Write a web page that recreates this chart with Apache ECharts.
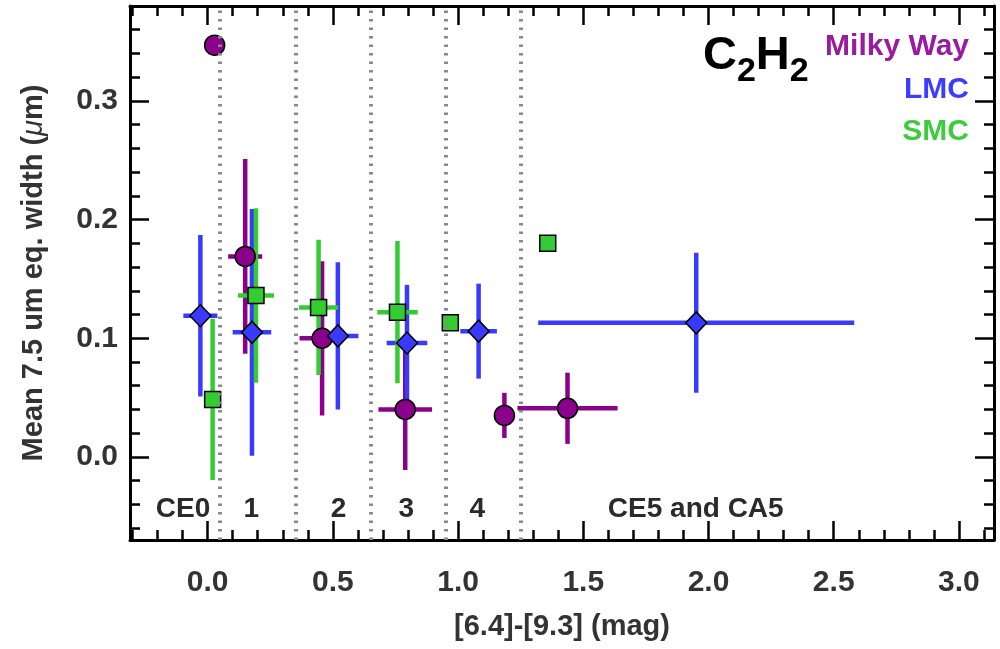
<!DOCTYPE html>
<html>
<head>
<meta charset="utf-8">
<title>C2H2 mean 7.5 um equivalent width</title>
<script src="https://cdn.jsdelivr.net/npm/echarts@6/dist/echarts.min.js"></script>
<style>
html, body { margin: 0; padding: 0; background: #fff; }
#chart { width: 1000px; height: 649px; }
</style>
</head>
<body>
<div id="chart"></div>
<script>
// values: x, y, half error in x, half error in y
var mwX = [0.028, 0.150, 0.457, 0.789, 1.185, 1.437];
var mwY = [0.347, 0.169, 0.100, 0.040, 0.035, 0.041];
var mwXerr = [0, 0.068, 0.090, 0.107, 0, 0.200];
var mwYerr = [0, 0.082, 0.065, 0.051, 0.019, 0.030];

var lmcX = [-0.029, 0.177, 0.520, 0.796, 1.082, 1.951];
var lmcY = [0.119, 0.105, 0.102, 0.096, 0.106, 0.113];
var lmcXerr = [0.068, 0.077, 0.082, 0.081, 0.073, 0.631];
var lmcYerr = [0.068, 0.104, 0.062, 0.049, 0.040, 0.059];

var smcX = [0.020, 0.193, 0.443, 0.758, 0.969, 1.358];
var smcY = [0.0485, 0.136, 0.126, 0.122, 0.113, 0.180];
var smcXerr = [0, 0.072, 0.078, 0.081, 0, 0];
var smcYerr = [0.068, 0.0735, 0.057, 0.060, 0, 0];

var seriesNames = ['Milky Way', 'LMC', 'SMC'];
var dividers = [0.05, 0.35, 0.65, 0.95, 1.25];
var classNames = ['CE0', '1', '2', '3', '4', 'CE5 and CA5'];
var classX = [-0.098, 0.174, 0.523, 0.793, 1.077, 1.949];
var classY = -0.044;

var FONT = "'Liberation Sans', Arial, Helvetica, sans-serif";
var PURPLE = '#8b008b', BLUE = '#3a3aff', GREEN = '#33cc33';
var XMIN = -0.31, XMAX = 3.14, YMIN = -0.07, YMAX = 0.38;

function rows(x, y, xe, ye) {
  var out = [];
  for (var i = 0; i < x.length; i++) out.push([x[i], y[i], xe[i], ye[i]]);
  return out;
}

function errBars(color) {
  return function (params, api) {
    var x = api.value(0), y = api.value(1), xe = api.value(2), ye = api.value(3);
    var kids = [];
    var st = { stroke: color, lineWidth: 4.5 };
    if (xe > 0) {
      var a = api.coord([x - xe, y]), b = api.coord([x + xe, y]);
      kids.push({ type: 'line', shape: { x1: a[0], y1: a[1], x2: b[0], y2: b[1] }, style: st });
    }
    if (ye > 0) {
      var c = api.coord([x, y - ye]), d = api.coord([x, y + ye]);
      kids.push({ type: 'line', shape: { x1: c[0], y1: c[1], x2: d[0], y2: d[1] }, style: st });
    }
    return { type: 'group', children: kids };
  };
}

function isMultiple(v, step) {
  var r = v / step;
  return Math.abs(r - Math.round(r)) < 1e-6;
}

function majorAxis(pos, min, max, step, labels, fmtStep) {
  return {
    type: 'value', position: pos, min: min, max: max,
    minInterval: step, maxInterval: step,
    axisLine: { show: true, onZero: false, lineStyle: { color: '#000', width: 3 } },
    axisTick: { show: true, inside: true, length: 19, lineStyle: { color: '#000', width: 2.5 } },
    minorTick: { show: false },
    splitLine: { show: false },
    axisLabel: {
      show: labels,
      color: '#333', fontSize: 30, fontWeight: 'bold', fontFamily: FONT,
      margin: pos === 'left' ? 12 : 28,
      formatter: function (v) { return isMultiple(v, fmtStep) ? v.toFixed(1) : ''; }
    }
  };
}

function minorAxis(pos, min, max, step) {
  return {
    type: 'value', position: pos, min: min, max: max,
    minInterval: step, maxInterval: step,
    axisLine: { show: false, onZero: false },
    axisTick: { show: true, inside: true, length: 10, lineStyle: { color: '#000', width: 2.5 } },
    splitLine: { show: false },
    axisLabel: { show: false }
  };
}

var chart = echarts.init(document.getElementById('chart'), null, { renderer: 'canvas' });

var xMain = majorAxis('bottom', XMIN, XMAX, 0.5, true, 0.5);
xMain.name = '[6.4]-[9.3] (mag)';
xMain.nameLocation = 'middle';
xMain.nameGap = 72;
xMain.nameTextStyle = { color: '#333', fontSize: 29, fontWeight: 'bold', fontFamily: FONT };

var yMain = majorAxis('left', YMIN, YMAX, 0.1, true, 0.1);
yMain.name = '{n|Mean 7.5 um eq. width (}{mu|\u03bc}{n|m)}';
yMain.nameLocation = 'middle';
yMain.nameGap = 82;
yMain.nameTextStyle = {
  rich: {
    n: { color: '#333', fontSize: 29, fontWeight: 'bold', fontFamily: FONT },
    mu: { color: '#333', fontSize: 29, fontStyle: 'italic', fontFamily: FONT }
  }
};

chart.setOption({
  animation: false,
  backgroundColor: '#fff',
  grid: { left: 130, right: 6, top: 6, bottom: 109, outerBoundsMode: 'none', containLabel: false },
  title: {
    left: 703, top: 33, padding: 0,
    text: '{a|C}{s|2}{a|H}{s|2}',
    textStyle: {
      rich: {
        a: { fontSize: 47, fontWeight: 'bold', color: '#000', fontFamily: FONT, lineHeight: 46, verticalAlign: 'top' },
        s: { fontSize: 34, fontWeight: 'bold', color: '#000', fontFamily: FONT, lineHeight: 56, verticalAlign: 'bottom' }
      }
    }
  },
  graphic: seriesNames.map(function (n, i) {
    return {
      type: 'text', right: 31, top: 32 + i * 42.5,
      style: { text: n, fill: ['#9a1aa0', '#3c3cff', '#3ccc3c'][i], font: 'bold 30px ' + FONT }
    };
  }),
  xAxis: [
    xMain,
    majorAxis('top', XMIN, XMAX, 0.5, false, 0.5),
    minorAxis('bottom', XMIN, XMAX, 0.1),
    minorAxis('top', XMIN, XMAX, 0.1)
  ],
  yAxis: [
    yMain,
    majorAxis('right', YMIN, YMAX, 0.1, false, 0.1),
    minorAxis('left', YMIN, YMAX, 0.02),
    minorAxis('right', YMIN, YMAX, 0.02)
  ],
  series: [
    {
      type: 'scatter', name: 'classes', symbolSize: 0, silent: true,
      data: classNames.map(function (n, i) { return { name: n, value: [classX[i], classY] }; }),
      label: {
        show: true, position: 'inside', formatter: '{b}', opacity: 1,
        color: '#2a2a2a', fontSize: 28, fontWeight: 'bold', fontFamily: FONT
      },
      markLine: {
        silent: true, symbol: ['none', 'none'], label: { show: false },
        lineStyle: { color: '#8a8a8a', width: 4, type: [2.5, 6], opacity: 1 },
        data: dividers.map(function (v) { return { xAxis: v }; })
      }
    },
    { type: 'custom', name: 'Milky Way err', renderItem: errBars(PURPLE), data: rows(mwX, mwY, mwXerr, mwYerr), silent: true },
    {
      type: 'scatter', name: 'Milky Way', symbol: 'circle', symbolSize: 20,
      itemStyle: { color: PURPLE, borderColor: '#000', borderWidth: 1.5, opacity: 1 },
      data: rows(mwX, mwY, mwXerr, mwYerr)
    },
    { type: 'custom', name: 'LMC err', renderItem: errBars(BLUE), data: rows(lmcX, lmcY, lmcXerr, lmcYerr), silent: true },
    {
      type: 'scatter', name: 'LMC', symbol: 'diamond', symbolSize: [21, 22],
      itemStyle: { color: BLUE, borderColor: '#000', borderWidth: 1.5, opacity: 1 },
      data: rows(lmcX, lmcY, lmcXerr, lmcYerr)
    },
    { type: 'custom', name: 'SMC err', renderItem: errBars(GREEN), data: rows(smcX, smcY, smcXerr, smcYerr), silent: true },
    {
      type: 'scatter', name: 'SMC', symbol: 'rect', symbolSize: 16,
      itemStyle: { color: GREEN, borderColor: '#000', borderWidth: 1.5, opacity: 1 },
      data: rows(smcX, smcY, smcXerr, smcYerr)
    }
  ]
});
</script>
</body>
</html>
